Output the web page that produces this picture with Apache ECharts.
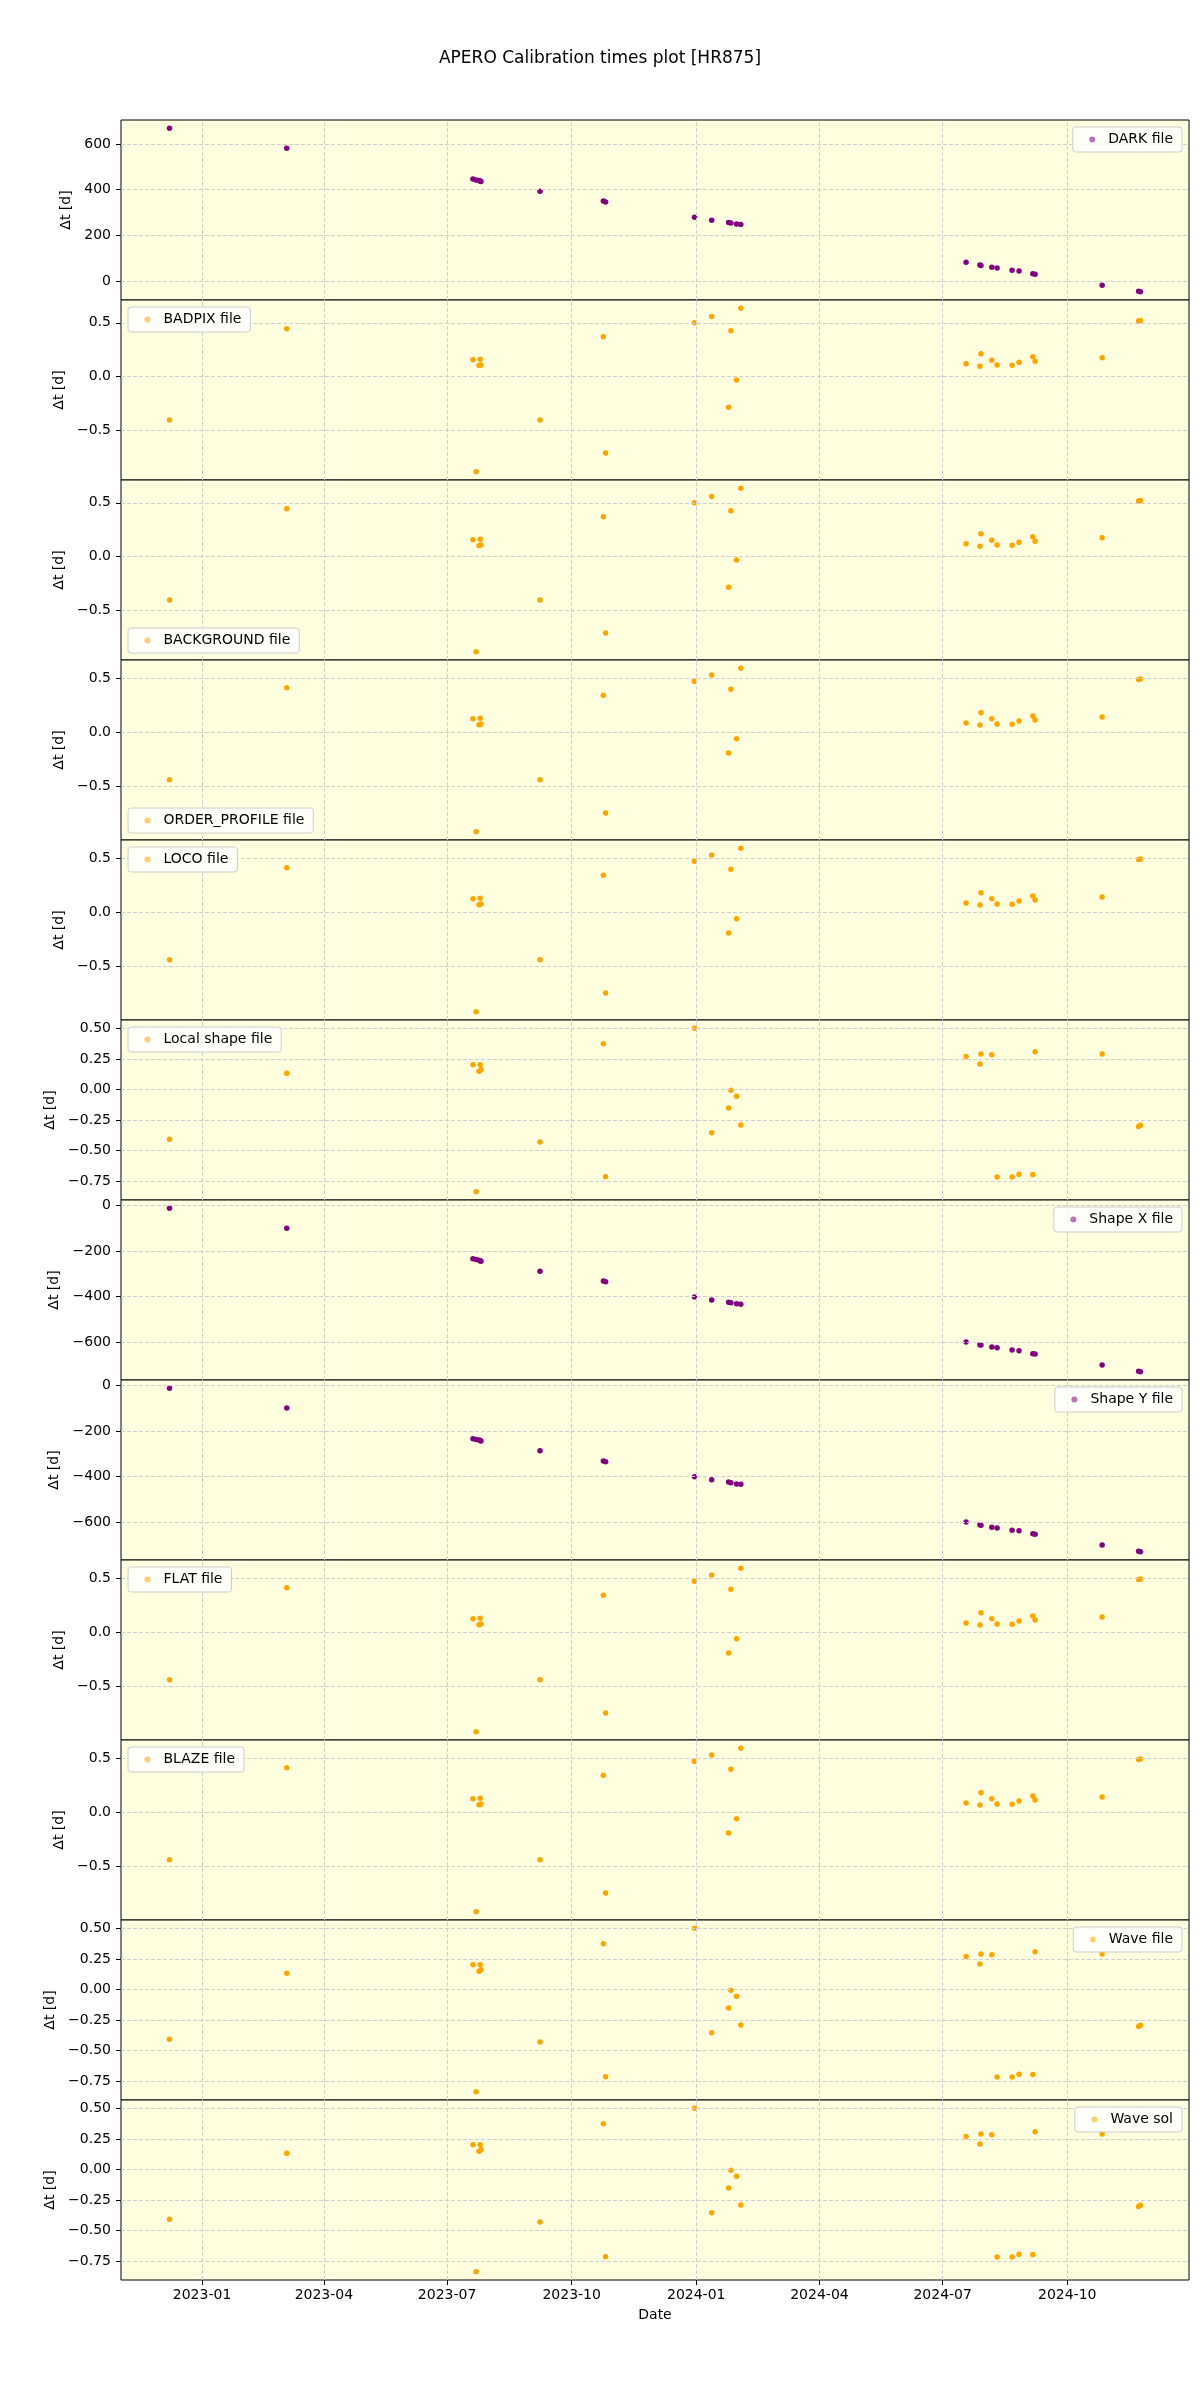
<!DOCTYPE html>
<html>
<head>
<meta charset="utf-8">
<script src="https://cdn.jsdelivr.net/npm/echarts@6/dist/echarts.min.js"></script>
<style>html,body{margin:0;padding:0;background:#fff}#c{width:1200px;height:2400px}</style>
</head>
<body>
<div id="c"></div>
<script>
// ---- data ----
const dates = [
  '2022-12-08 00', '2023-03-04 14', '2023-07-20 02', '2023-07-22 10', '2023-07-24 14',
  '2023-07-25 10', '2023-07-26 00', '2023-09-07 14', '2023-10-24 10', '2023-10-26 02',
  '2023-12-30 17', '2024-01-12 10', '2024-01-24 22', '2024-01-26 14', '2024-01-30 19',
  '2024-02-02 22', '2024-07-18 07', '2024-07-28 12', '2024-07-29 07', '2024-08-06 07',
  '2024-08-10 05', '2024-08-21 07', '2024-08-26 10', '2024-09-05 14', '2024-09-07 07',
  '2024-10-26 19', '2024-11-22 17', '2024-11-24 02'
];
const darkValues = [670, 582, 447, 443, 440, 438, 436, 393, 350, 346,
  279, 266, 256, 254, 250, 247, 82, 70, 68, 60,
  56, 47, 43, 31, 29, -19, -46, -48];
const badpixValues = [-0.407, 0.444, 0.154, -0.890, 0.101, 0.160, 0.107, -0.407, 0.369, -0.715,
  0.500, 0.559, -0.289, 0.425, -0.033, 0.636, 0.117, 0.094, 0.210, 0.150,
  0.107, 0.104, 0.132, 0.182, 0.141, 0.173, 0.517, 0.522];
const backgroundValues = badpixValues.slice();
const orderProfileValues = [-0.437, 0.414, 0.128, -0.919, 0.071, 0.131, 0.078, -0.438, 0.345, -0.745,
  0.474, 0.533, -0.190, 0.400, -0.059, 0.595, 0.088, 0.069, 0.182, 0.126,
  0.079, 0.077, 0.106, 0.153, 0.115, 0.143, 0.491, 0.495];
const locoValues = orderProfileValues.slice();
const flatValues = orderProfileValues.slice();
const blazeValues = orderProfileValues.slice();
const localShapeValues = [-0.408, 0.134, 0.203, -0.839, 0.151, 0.203, 0.162, -0.430, 0.376, -0.715,
  0.504, -0.354, -0.151, -0.005, -0.055, -0.291, 0.271, 0.211, 0.293, 0.285,
  -0.718, -0.718, -0.694, -0.696, 0.310, 0.293, -0.302, -0.293];
const waveFileValues = localShapeValues.slice();
const waveSolValues = localShapeValues.slice();
const shapeXValues = [-11, -99, -234, -237, -240, -242, -245, -288, -331, -335,
  -402, -415, -425, -427, -431, -434, -600, -612, -613, -622,
  -625, -635, -638, -651, -653, -701, -729, -731];
const shapeYValues = [-12, -99, -234, -237, -239, -242, -244, -287, -332, -335,
  -401, -414, -424, -427, -432, -433, -599, -611, -613, -622,
  -625, -635, -638, -651, -653, -700, -727, -730];

const seriesNames = ['DARK file', 'BADPIX file', 'BACKGROUND file', 'ORDER_PROFILE file', 'LOCO file',
  'Local shape file', 'Shape X file', 'Shape Y file', 'FLAT file', 'BLAZE file', 'Wave file', 'Wave sol'];
const seriesValues = [darkValues, badpixValues, backgroundValues, orderProfileValues, locoValues,
  localShapeValues, shapeXValues, shapeYValues, flatValues, blazeValues, waveFileValues, waveSolValues];

const ticksDark = [0, 200, 400, 600];
const ticksHalf = [-0.5, 0, 0.5];
const ticksQuarter = [-0.75, -0.5, -0.25, 0, 0.25, 0.5];
const ticksShape = [-600, -400, -200, 0];
const dateTicks = ['2023-01-01', '2023-04-01', '2023-07-01', '2023-10-01',
  '2024-01-01', '2024-04-01', '2024-07-01', '2024-10-01'];

// ---- presentation ----
const PURPLE = '#800080', ORANGE = '#FFA500';
const panelStyle = [
  {color: PURPLE, ticks: ticksDark, dec: 0, leg: 'ur', gap: 47},
  {color: ORANGE, ticks: ticksHalf, dec: 1, leg: 'ul', gap: 53},
  {color: ORANGE, ticks: ticksHalf, dec: 1, leg: 'll', gap: 53},
  {color: ORANGE, ticks: ticksHalf, dec: 1, leg: 'll', gap: 53},
  {color: ORANGE, ticks: ticksHalf, dec: 1, leg: 'ul', gap: 53},
  {color: ORANGE, ticks: ticksQuarter, dec: 2, leg: 'ul', gap: 61},
  {color: PURPLE, ticks: ticksShape, dec: 0, leg: 'ur', gap: 57},
  {color: PURPLE, ticks: ticksShape, dec: 0, leg: 'ur', gap: 57},
  {color: ORANGE, ticks: ticksHalf, dec: 1, leg: 'ul', gap: 53},
  {color: ORANGE, ticks: ticksHalf, dec: 1, leg: 'ul', gap: 53},
  {color: ORANGE, ticks: ticksQuarter, dec: 2, leg: 'ur', gap: 61},
  {color: ORANGE, ticks: ticksQuarter, dec: 2, leg: 'ur', gap: 61}
];

function ts(s) {
  const [d, h] = s.split(' ');
  const [Y, M, D] = d.split('-').map(Number);
  return Date.UTC(Y, M - 1, D, h ? Number(h) : 0);
}
const xs = dates.map(ts);
const xTickVals = dateTicks.map(ts);
function fmtDate(v) {
  const d = new Date(v);
  return d.getUTCFullYear() + '-' + String(d.getUTCMonth() + 1).padStart(2, '0');
}
function fmtNum(dec) {
  return v => v.toFixed(dec).replace('-', '\u2212');
}
const pad5 = e => e.min - 0.05 * (e.max - e.min);
const padMax5 = e => e.max + 0.05 * (e.max - e.min);

const FONT = 'DejaVu Sans';
const GRIDLINE = {color: '#cfcfcf', type: [4, 2], width: 1};
const LEFT = 121, RIGHT = 11, TOP = 120, H = 180;
const n = seriesNames.length;
const grids = [], xAxes = [], yAxes = [], series = [], legends = [];

for (let i = 0; i < n; i++) {
  const st = panelStyle[i];
  const top = TOP + i * H;
  const last = i === n - 1;
  grids.push({left: LEFT, right: RIGHT, top: top, height: H, show: true,
    backgroundColor: '#FFFFE0', borderColor: '#000', borderWidth: 1});
  xAxes.push({
    type: 'value', gridIndex: i, min: pad5, max: padMax5, scale: true,
    axisLine: {show: false, onZero: false},
    axisTick: {show: last, length: 5, lineStyle: {color: '#000'}, customValues: xTickVals},
    axisLabel: {show: last, customValues: xTickVals, formatter: fmtDate, color: '#000',
      fontFamily: FONT, fontSize: 14, margin: 8},
    splitLine: {show: false},
    name: last ? 'Date' : '', nameLocation: 'middle', nameGap: 28,
    nameTextStyle: {color: '#000', fontFamily: FONT, fontSize: 14}
  });
  yAxes.push({
    type: 'value', gridIndex: i, min: pad5, max: padMax5, scale: true,
    axisLine: {show: false, onZero: false},
    axisTick: {show: true, length: 5, lineStyle: {color: '#000'}, customValues: st.ticks},
    axisLabel: {customValues: st.ticks, formatter: fmtNum(st.dec), color: '#000',
      fontFamily: FONT, fontSize: 14, margin: 10},
    splitLine: {show: false},
    name: '\u0394t [d]', nameLocation: 'middle', nameGap: st.gap, nameRotate: 90,
    nameTextStyle: {color: '#000', fontFamily: FONT, fontSize: 14}
  });
  // grid lines (drawn under the points)
  series.push({
    type: 'scatter', name: 'grid' + i, xAxisIndex: i, yAxisIndex: i, z: 1,
    data: [], silent: true,
    markLine: {
      silent: true, symbol: ['none', 'none'], label: {show: false},
      lineStyle: GRIDLINE, emphasis: {disabled: true}, animation: false,
      data: xTickVals.map(v => ({xAxis: v})).concat(st.ticks.map(v => ({yAxis: v})))
    }
  });
  series.push({
    type: 'scatter', name: seriesNames[i], xAxisIndex: i, yAxisIndex: i,
    symbol: 'circle', symbolSize: 5.5, z: 3,
    itemStyle: {color: st.color, opacity: 1},
    emphasis: {disabled: true},
    data: xs.map((x, k) => [x, seriesValues[i][k]])
  });
  const lg = {
    data: [{name: seriesNames[i], icon: 'circle',
      itemStyle: {color: st.color, opacity: 0.55}}],
    orient: 'vertical', itemWidth: 22, itemHeight: 6, z: 20,
    padding: [4.5, 9, 4.5, 16.5],
    backgroundColor: 'rgba(255,255,255,0.8)', borderColor: '#cccccc', borderWidth: 1,
    borderRadius: 3, selectedMode: false,
    textStyle: {color: '#000', fontFamily: FONT, fontSize: 14, lineHeight: 16}
  };
  if (st.leg === 'ur') { lg.right = RIGHT + 7; lg.top = top + 7; }
  else if (st.leg === 'ul') { lg.left = LEFT + 7; lg.top = top + 7; }
  else { lg.left = LEFT + 7; lg.top = top + H - 7 - 25; }
  legends.push(lg);
}

const chart = echarts.init(document.getElementById('c'), null, {renderer: 'canvas'});
chart.setOption({
  animation: false,
  backgroundColor: '#fff',
  title: {text: 'APERO Calibration times plot [HR875]', left: 'center', top: 44,
    textStyle: {color: '#000', fontFamily: FONT, fontSize: 17, fontWeight: 'normal', lineHeight: 20}},
  grid: grids, xAxis: xAxes, yAxis: yAxes, series: series, legend: legends
});
</script>
</body>
</html>
